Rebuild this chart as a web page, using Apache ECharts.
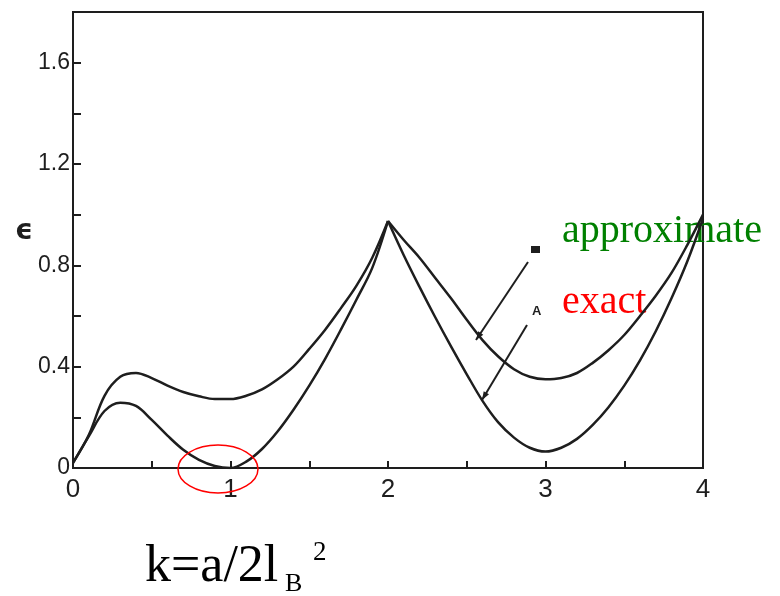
<!DOCTYPE html>
<html lang="en">
<head>
    <meta charset="UTF-8">
    <title>epsilon vs k</title>
</head>
<body style="margin:0;background:#fff">
<div id="main" style="width:780px;height:596px"></div>
<script src="https://cdn.jsdelivr.net/npm/echarts@6/dist/echarts.min.js"></script>
<script>
    // k values (x axis) and the two curves
    var kValues = [0, 0.1, 0.2, 0.3, 0.4, 0.5, 0.6, 0.7, 0.8, 0.9, 1.0, 1.1, 1.2, 1.3, 1.4, 1.5, 1.6, 1.7, 1.8, 1.9, 2.0,
                   2.1, 2.2, 2.3, 2.4, 2.5, 2.6, 2.7, 2.8, 2.9, 3.0, 3.1, 3.2, 3.3, 3.4, 3.5, 3.6, 3.7, 3.8, 3.9, 4.0];
    var approximate = [0.02, 0.13, 0.285, 0.36, 0.375, 0.355, 0.325, 0.30, 0.283, 0.272, 0.272, 0.285, 0.31, 0.35, 0.40, 0.47, 0.545, 0.63, 0.72, 0.83, 0.975,
                       0.90, 0.83, 0.75, 0.67, 0.585, 0.505, 0.44, 0.39, 0.36, 0.35, 0.355, 0.375, 0.415, 0.465, 0.525, 0.60, 0.68, 0.77, 0.88, 1.0];
    var exact = [0.02, 0.125, 0.225, 0.258, 0.245, 0.19, 0.128, 0.072, 0.032, 0.008, 0.0, 0.025, 0.075, 0.145, 0.23, 0.325, 0.43, 0.545, 0.665, 0.79, 0.975,
                 0.84, 0.715, 0.595, 0.48, 0.37, 0.265, 0.18, 0.12, 0.08, 0.065, 0.08, 0.115, 0.17, 0.24, 0.325, 0.425, 0.54, 0.67, 0.815, 0.985];
    var xTicks = [0, 1, 2, 3, 4];
    var yTicks = [0, 0.4, 0.8, 1.2, 1.6];

    var ink = '#1e1e1e';

    // split each curve at the cusp k=2 so the peak stays sharp
    function part(vals, left) {
        var out = [];
        for (var i = 0; i < kValues.length; i++) {
            if (left ? kValues[i] <= 2 : kValues[i] >= 2) out.push([kValues[i], vals[i]]);
        }
        return out;
    }
    function curve(vals, left) {
        return {
            type: 'line',
            data: part(vals, left),
            smooth: 0.35,
            symbol: 'none',
            lineStyle: {color: ink, width: 2.5},
            z: 3
        };
    }

    function arrow(x1, y1, x2, y2) {
        var a = Math.atan2(y2 - y1, x2 - x1), L = 9, w = 0.35;
        return [
            {type: 'line', shape: {x1: x1, y1: y1, x2: x2, y2: y2}, style: {stroke: ink, lineWidth: 2}},
            {type: 'polygon', shape: {points: [[x2, y2],
                        [x2 - L * Math.cos(a - w), y2 - L * Math.sin(a - w)],
                        [x2 - L * Math.cos(a + w), y2 - L * Math.sin(a + w)]]}, style: {fill: ink}}
        ];
    }

    // graphic text is top-aligned: baseline sits ~0.8 * size below the top
    function label(txt, x, baseline, size, color) {
        return {type: 'text', x: x, y: baseline - 0.8 * size,
            style: {text: txt, font: size + 'px "Liberation Serif"', fill: color}};
    }

    var myChart = echarts.init(document.getElementById('main'));
    var option = {
        animation: false,
        grid: {
            left: 73, right: 77, top: 12, bottom: 128,
            show: true, borderColor: ink, borderWidth: 2
        },
        xAxis: {
            type: 'value', min: 0, max: 4, interval: 0.5,
            axisLine: {lineStyle: {color: ink, width: 2}},
            axisTick: {inside: true, length: 7, lineStyle: {color: ink, width: 2}},
            splitLine: {show: false},
            axisLabel: {
                color: ink, fontFamily: 'Liberation Sans', fontSize: 26, margin: 9,
                formatter: function (v) { return xTicks.indexOf(v) >= 0 ? String(v) : ''; }
            }
        },
        yAxis: {
            type: 'value', min: 0, max: 1.8, interval: 0.2,
            axisLine: {show: true, lineStyle: {color: ink, width: 2}},
            axisTick: {show: true, inside: true, length: 8, lineStyle: {color: ink, width: 2}},
            splitLine: {show: false},
            axisLabel: {
                color: ink, fontFamily: 'Liberation Sans', fontSize: 23, margin: 3,
                formatter: function (v) {
                    for (var i = 0; i < yTicks.length; i++) {
                        if (Math.abs(yTicks[i] - v) < 1e-6) return String(yTicks[i]);
                    }
                    return '';
                }
            }
        },
        series: [
            curve(approximate, true), curve(approximate, false),
            curve(exact, true), curve(exact, false)
        ],
        graphic: [
            {type: 'text', x: 15, y: 218, style: {text: 'ϵ', font: 'bold 28px "DejaVu Sans"', fill: ink}},
            {type: 'rect', shape: {x: 531, y: 246, width: 9, height: 7}, style: {fill: ink}},
            {type: 'text', x: 532, y: 305, style: {text: 'A', font: 'bold 13px "Liberation Sans"', fill: ink}},
            label('approximate', 562, 243, 40, '#008000'),
            label('exact', 562, 314, 40, '#ff0000'),
            {type: 'ellipse', shape: {cx: 218, cy: 469, rx: 40, ry: 24}, style: {fill: 'none', stroke: '#ff0000', lineWidth: 1.5}, z: 10},
            label('k=a/2l', 145, 583, 52, '#000'),
            label('B', 285, 592, 26, '#000'),
            label('2', 313, 561, 27, '#000')
        ].concat(arrow(528, 262, 476, 340), arrow(527, 325, 482, 400))
    };
    myChart.setOption(option);
</script>
</body>
</html>
